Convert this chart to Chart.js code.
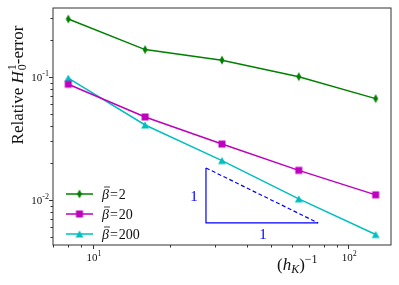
<!DOCTYPE html>
<html>
<head>
<meta charset="utf-8">
<script src="https://cdn.jsdelivr.net/npm/chart.js@4.4.1/dist/chart.umd.min.js"></script>
<style>
  html, body { margin: 0; padding: 0; background: #fff; }
  #wrap { width: 399px; height: 285px; }
</style>
</head>
<body>
<div id="wrap"><canvas id="grafico"></canvas></div>
<script>
// valores
const tamanhosMalha = [8, 16, 32, 64, 128];
const erroBeta2 = [0.296, 0.167, 0.137, 0.1006, 0.0667];
const erroBeta20 = [0.0873, 0.0473, 0.0285, 0.0174, 0.0110];
const erroBeta200 = [0.098, 0.0407, 0.0209, 0.0102, 0.00523];
const rotulosBeta = ['2', '20', '200'];
const trianguloX = [27.7, 76.2];
const trianguloY = [0.0182, 0.0065];
const ticksX = [10, 100];
const ticksY = [0.01, 0.1];

const SERIF = '"Liberation Serif", "DejaVu Serif", serif';
const VERDE = '#008000', MAGENTA = '#bf00bf', CIANO = '#00bfbf', AZUL = '#0000ff';

function marcador(tipo, cor) {
    const c = document.createElement('canvas');
    c.width = 10; c.height = 10;
    const g = c.getContext('2d');
    g.fillStyle = cor; g.strokeStyle = cor; g.lineWidth = 1;
    g.beginPath();
    if (tipo === 'd') { g.moveTo(5, 0.5); g.lineTo(7.5, 5); g.lineTo(5, 9.5); g.lineTo(2.5, 5); }
    if (tipo === 's') { g.rect(1.5, 1.5, 7, 7); }
    if (tipo === '^') { g.moveTo(5, 1.5); g.lineTo(9, 8.5); g.lineTo(1, 8.5); }
    g.closePath(); g.fill();
    return c;
}
const marcadores = [marcador('d', VERDE), marcador('s', MAGENTA), marcador('^', CIANO)];
const cores = [VERDE, MAGENTA, CIANO];

function serie(valores, i) {
    return {
        data: tamanhosMalha.map((x, k) => ({ x: x, y: valores[k] })),
        borderColor: cores[i], backgroundColor: cores[i],
        borderWidth: 1.5, pointStyle: marcadores[i], pointRadius: 5, tension: 0
    };
}

// desenha texto com partes (sobrescrito, subscrito)
function textoRico(ctx, partes, x, y, alinhar) {
    let largura = 0, maxW = 0;
    partes.forEach(p => {
        ctx.font = p.f;
        const w = ctx.measureText(p.t).width + (p.esp || 0);
        if (p.fica) { maxW = Math.max(maxW, w); }
        else { largura += Math.max(w, maxW); maxW = 0; }
    });
    let cx = alinhar === 'center' ? x - largura / 2 : alinhar === 'right' ? x - largura : x;
    maxW = 0;
    partes.forEach(p => {
        ctx.font = p.f;
        ctx.fillText(p.t, cx, y + (p.dy || 0));
        const w = ctx.measureText(p.t).width + (p.esp || 0);
        if (p.barra) {
            ctx.save(); ctx.lineWidth = 0.8; ctx.strokeStyle = ctx.fillStyle;
            ctx.beginPath(); ctx.moveTo(cx + 2, y - 12); ctx.lineTo(cx + w, y - 12); ctx.stroke();
            ctx.restore();
        }
        if (p.fica) { maxW = Math.max(maxW, w); }
        else { cx += Math.max(w, maxW); maxW = 0; }
    });
}

const extras = {
    id: 'extras',
    afterDraw(chart) {
        const ctx = chart.ctx;
        const a = chart.chartArea;
        const sx = chart.scales.x, sy = chart.scales.y;
        ctx.save();
        ctx.strokeStyle = '#333'; ctx.lineWidth = 1;
        ctx.strokeRect(a.left, a.top, a.right - a.left, a.bottom - a.top);

        // ticks
        ctx.beginPath();
        for (let d = 1; d <= 100; d *= 10) {
            for (let m = 1; m <= 9; m++) {
                const v = m * d;
                if (v < sx.min || v > sx.max) continue;
                const px = Math.round(sx.getPixelForValue(v)) + 0.5;
                ctx.moveTo(px, a.bottom); ctx.lineTo(px, a.bottom + (m === 1 ? 4 : 2.5));
            }
        }
        for (let d = 0.001; d <= 0.11; d *= 10) {
            for (let m = 1; m <= 9; m++) {
                const v = m * d;
                if (v < sy.min || v > sy.max) continue;
                const py = Math.round(sy.getPixelForValue(v)) + 0.5;
                ctx.moveTo(a.left, py); ctx.lineTo(a.left - (m === 1 ? 4 : 2.5), py);
            }
        }
        ctx.stroke();

        ctx.fillStyle = '#111';
        ctx.textBaseline = 'alphabetic';
        ticksX.forEach(v => {
            const px = sx.getPixelForValue(v);
            const e = Math.round(Math.log10(v));
            textoRico(ctx, [{ t: '10', f: '11px ' + SERIF }, { t: String(e), f: '8px ' + SERIF, dy: -5 }], px + 1, a.bottom + 16, 'center');
        });
        ticksY.forEach(v => {
            const py = sy.getPixelForValue(v);
            const e = Math.round(Math.log10(v));
            textoRico(ctx, [{ t: '10', f: '11px ' + SERIF }, { t: String(e), f: '8px ' + SERIF, dy: -5 }], a.left - 4, py + 4, 'right');
        });

        // titulo do eixo y
        ctx.save();
        ctx.translate(23, 85);
        ctx.rotate(-Math.PI / 2);
        textoRico(ctx, [
            { t: 'Relative ', f: '17px ' + SERIF },
            { t: 'H', f: 'italic 17px ' + SERIF, esp: 1 },
            { t: '1', f: '12px ' + SERIF, dy: -7, fica: true },
            { t: '0', f: '12px ' + SERIF, dy: 3 },
            { t: '-error', f: '17px ' + SERIF }
        ], 0, 0, 'center');
        ctx.restore();

        // titulo do eixo x
        textoRico(ctx, [
            { t: '(', f: '17px ' + SERIF },
            { t: 'h', f: 'italic 17px ' + SERIF },
            { t: 'K', f: 'italic 12px ' + SERIF, dy: 3 },
            { t: ')', f: '17px ' + SERIF },
            { t: '\u22121', f: '12px ' + SERIF, dy: -7 }
        ], 277, 270, 'left');

        // rotulos do triangulo
        ctx.fillStyle = AZUL;
        ctx.font = '15px ' + SERIF;
        ctx.textAlign = 'center';
        const tx = sx.getPixelForValue(trianguloX[0]);
        const tyMeio = (sy.getPixelForValue(trianguloY[0]) + sy.getPixelForValue(trianguloY[1])) / 2;
        ctx.fillText('1', tx - 12, tyMeio + 6);
        const bxMeio = (sx.getPixelForValue(trianguloX[0]) + sx.getPixelForValue(trianguloX[1])) / 2;
        ctx.fillText('1', bxMeio + 1, sy.getPixelForValue(trianguloY[1]) + 16);
        ctx.textAlign = 'left';

        // legenda
        const ys = [194, 214, 234];
        rotulosBeta.forEach((r, i) => {
            const y = ys[i];
            ctx.strokeStyle = cores[i]; ctx.lineWidth = 1.5;
            ctx.beginPath(); ctx.moveTo(66, y); ctx.lineTo(93, y); ctx.stroke();
            ctx.drawImage(marcadores[i], 79.5 - 5, y - 5);
            ctx.fillStyle = '#111';
            textoRico(ctx, [
                { t: '\u03b2', f: 'italic 14px ' + SERIF, barra: true, esp: 1 },
                { t: '=', f: '14px ' + SERIF, esp: 1 },
                { t: r, f: '14px ' + SERIF }
            ], 102, y + 5, 'left');
        });
        ctx.restore();
    }
};

const triangulo = {
    data: [
        { x: trianguloX[0], y: trianguloY[0] },
        { x: trianguloX[0], y: trianguloY[1] },
        { x: trianguloX[1], y: trianguloY[1] }
    ],
    borderColor: AZUL, borderWidth: 1.2, pointRadius: 0, tension: 0
};
const hipotenusa = {
    data: [
        { x: trianguloX[0], y: trianguloY[0] },
        { x: trianguloX[1], y: trianguloY[1] }
    ],
    borderColor: AZUL, borderWidth: 1.2, borderDash: [4, 2.5], pointRadius: 0, tension: 0
};

new Chart(document.getElementById('grafico').getContext('2d'), {
    type: 'line',
    data: {
        datasets: [triangulo, hipotenusa, serie(erroBeta2, 0), serie(erroBeta20, 1), serie(erroBeta200, 2)]
    },
    options: {
        responsive: true,
        maintainAspectRatio: false,
        animation: false,
        devicePixelRatio: 1,
        layout: { padding: { left: 53, right: 8, top: 8, bottom: 40 } },
        plugins: { legend: { display: false }, tooltip: { enabled: false } },
        scales: {
            x: { type: 'logarithmic', min: 6.97, max: 147, display: false },
            y: { type: 'logarithmic', min: 0.0043, max: 0.364, display: false }
        }
    },
    plugins: [extras]
});
</script>
</body>
</html>
